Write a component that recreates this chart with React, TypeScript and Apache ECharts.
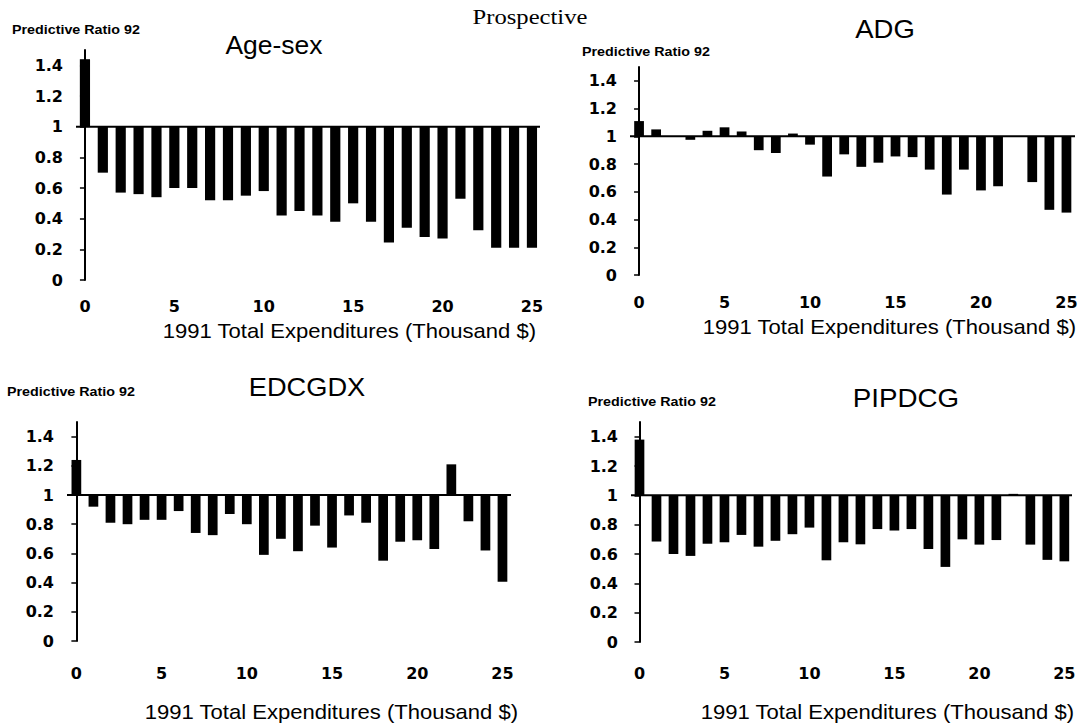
import React, { useEffect, useRef } from "react";
import * as echarts from "echarts";

const xValues = [0, 1, 2, 3, 4, 5, 6, 7, 8, 9, 10, 11, 12, 13, 14, 15, 16, 17, 18, 19, 20, 21, 22, 23, 24, 25];
const ageSex = [1.44, 0.7, 0.57, 0.56, 0.54, 0.6, 0.6, 0.52, 0.52, 0.55, 0.58, 0.42, 0.45, 0.42, 0.38, 0.5, 0.38, 0.245, 0.34, 0.28, 0.27, 0.53, 0.325, 0.21, 0.21, 0.21];
const adg = [1.11, 1.05, 1.0, 0.975, 1.04, 1.065, 1.035, 0.9, 0.88, 1.02, 0.94, 0.71, 0.87, 0.78, 0.81, 0.855, 0.85, 0.76, 0.58, 0.76, 0.61, 0.64, 1.0, 0.67, 0.47, 0.45];
const edcgdx = [1.24, 0.92, 0.81, 0.8, 0.83, 0.83, 0.89, 0.74, 0.725, 0.87, 0.8, 0.59, 0.7, 0.615, 0.79, 0.64, 0.86, 0.81, 0.55, 0.68, 0.69, 0.63, 1.21, 0.82, 0.62, 0.405];
const pipdcg = [1.38, 0.685, 0.6, 0.587, 0.67, 0.68, 0.73, 0.65, 0.69, 0.735, 0.78, 0.557, 0.68, 0.666, 0.77, 0.76, 0.77, 0.634, 0.512, 0.7, 0.664, 0.695, 1.01, 0.664, 0.56, 0.55];

const panelTitles = ["Age-sex", "ADG", "EDCGDX", "PIPDCG"];
const yTickValues = [0, 0.2, 0.4, 0.6, 0.8, 1, 1.2, 1.4];
const xTickValues = [0, 5, 10, 15, 20, 25];
const baselineValue = 1;
const superTitle = "Prospective";
const yAxisTitle = "Predictive Ratio 92";
const xAxisTitle = "1991 Total Expenditures (Thousand $)";

const panels = [
  { data: ageSex, grid: { left: 76, top: 50, width: 464, height: 230 }, xMin: -0.5, xMax: 25.45, labelMargin: 18,
    title: { x: 274, y: 45, sx: 1.06 }, yName: { x: 12, y: 30 }, xName: { x: 536, y: 331 } },
  { data: adg, grid: { left: 630, top: 67, width: 445, height: 208 }, xMin: -0.53, xMax: 25.5, labelMargin: 19,
    title: { x: 885, y: 29, sx: 1.1 }, yName: { x: 582, y: 52 }, xName: { x: 1076, y: 327 } },
  { data: edcgdx, grid: { left: 67, top: 422, width: 444, height: 219 }, xMin: -0.55, xMax: 25.5, labelMargin: 24,
    title: { x: 307, y: 387, sx: 1.09 }, yName: { x: 7, y: 392 }, xName: { x: 518, y: 712 } },
  { data: pipdcg, grid: { left: 631, top: 422, width: 441, height: 220 }, xMin: -0.5, xMax: 25.45, labelMargin: 23,
    title: { x: 906, y: 398, sx: 1.11 }, yName: { x: 588, y: 402 }, xName: { x: 1074, y: 712 } },
];

const labelFont = "DejaVu Sans";
const sansFont = "Liberation Sans, Arial, sans-serif";

export default function App() {
  const ref = useRef<HTMLDivElement>(null);

  useEffect(() => {
    if (!ref.current) return;
    const chart = echarts.init(ref.current, null, { renderer: "svg" });

    const grids: any[] = [];
    const xAxes: any[] = [];
    const yAxes: any[] = [];
    const series: any[] = [];
    const graphics: any[] = [];

    panels.forEach((p, i) => {
      grids.push({ ...p.grid, containLabel: false, outerBoundsMode: "none" });
      xAxes.push({
        type: "value",
        gridIndex: i,
        min: p.xMin,
        max: p.xMax,
        axisLine: { show: false },
        axisTick: { show: false },
        splitLine: { show: false },
        axisLabel: {
          customValues: xTickValues,
          margin: p.labelMargin,
          fontFamily: labelFont,
          fontWeight: "bold",
          fontSize: 16,
          color: "#000",
        },
      });
      yAxes.push({
        type: "value",
        gridIndex: i,
        min: 0,
        max: 1.5,
        splitLine: { show: false },
        axisLine: { show: true, lineStyle: { color: "#000", width: 2 } },
        axisTick: { show: true, customValues: yTickValues, length: 5, lineStyle: { color: "#000", width: 1.5 } },
        axisLabel: {
          customValues: yTickValues,
          margin: 13,
          fontFamily: labelFont,
          fontWeight: "bold",
          fontSize: 16,
          color: "#000",
          formatter: (v: number) => String(Number(v.toFixed(1))),
        },
      });
      series.push({
        type: "line",
        xAxisIndex: i,
        yAxisIndex: i,
        data: [[p.xMin, baselineValue], [p.xMax, baselineValue]],
        symbol: "none",
        lineStyle: { color: "#000", width: 2 },
        silent: true,
        z: 3,
      });
      series.push({
        type: "custom",
        xAxisIndex: i,
        yAxisIndex: i,
        data: xValues.map((x, k) => [x, p.data[k]]),
        encode: { x: 0, y: 1 },
        z: 2,
        renderItem: (params: any, api: any) => {
          const x = api.value(0);
          const v = api.value(1);
          const a = api.coord([x, baselineValue]);
          const b = api.coord([x, v]);
          const w = api.size([1, 0])[0] * 0.57;
          return {
            type: "rect",
            shape: { x: a[0] - w / 2, y: Math.min(a[1], b[1]), width: w, height: Math.abs(b[1] - a[1]) },
            style: { fill: "#000" },
          };
        },
      });
      graphics.push({
        type: "text",
        x: p.title.x,
        y: p.title.y,
        scaleX: p.title.sx,
        style: {
          text: panelTitles[i],
          fontFamily: sansFont,
          fontSize: 25,
          fill: "#000",
          align: "center",
          verticalAlign: "middle",
          textAlign: "center",
          textVerticalAlign: "middle",
        },
      });
      graphics.push({
        type: "text",
        x: p.yName.x,
        y: p.yName.y,
        scaleX: 1.1,
        style: {
          text: yAxisTitle,
          fontFamily: sansFont,
          fontWeight: "bold",
          fontSize: 13,
          fill: "#000",
          align: "left",
          verticalAlign: "middle",
          textAlign: "left",
          textVerticalAlign: "middle",
        },
      });
      graphics.push({
        type: "text",
        x: p.xName.x,
        y: p.xName.y,
        scaleX: 1.05,
        style: {
          text: xAxisTitle,
          fontFamily: sansFont,
          fontSize: 21,
          fill: "#000",
          align: "right",
          verticalAlign: "middle",
          textAlign: "right",
          textVerticalAlign: "middle",
        },
      });
    });

    graphics.push({
      type: "text",
      x: 530,
      y: 16,
      scaleX: 1.12,
      style: {
        text: superTitle,
        fontFamily: "Liberation Serif, Times New Roman, serif",
        fontSize: 22,
        fill: "#000",
        align: "center",
        verticalAlign: "middle",
        textAlign: "center",
        textVerticalAlign: "middle",
      },
    });

    chart.setOption({
      animation: false,
      backgroundColor: "#fff",
      grid: grids,
      xAxis: xAxes,
      yAxis: yAxes,
      series,
      graphic: { elements: graphics },
    });

    return () => chart.dispose();
  }, []);

  return <div ref={ref} style={{ position: "absolute", left: 0, top: 0, width: 1082, height: 724 }} />;
}
